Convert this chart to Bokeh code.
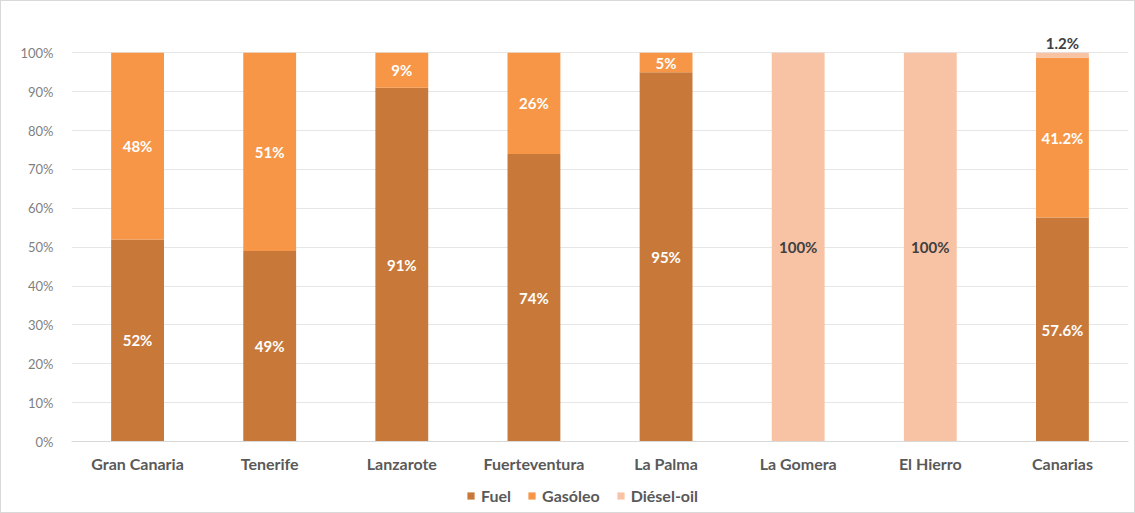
from bokeh.plotting import figure
from bokeh.layouts import column
from bokeh.models import ColumnDataSource, Range1d, FactorRange, LabelSet, Legend, LegendItem, FixedTicker, CustomJSTickFormatter
from bokeh.core.properties import value
from bokeh.embed import file_html
from bokeh.resources import INLINE

categories = ["Gran Canaria", "Tenerife", "Lanzarote", "Fuerteventura", "La Palma", "La Gomera", "El Hierro", "Canarias"]
fuel = [52, 49, 91, 74, 95, 0, 0, 57.6]
gasoleo = [48, 51, 9, 26, 5, 0, 0, 41.2]
diesel = [0, 0, 0, 0, 0, 100, 100, 1.2]
series = ["Fuel", "Gasóleo", "Diésel-oil"]
colors = ["#C87838", "#F79646", "#F8C3A5"]

FONT = "Lato"

src = ColumnDataSource(dict(cat=categories, Fuel=fuel, Gas=gasoleo, Die=diesel))

p = figure(width=1133, height=474, x_range=FactorRange(*categories, range_padding=0.0),
           y_range=Range1d(0, 106), output_backend="svg", toolbar_location=None,
           min_border_left=70, min_border_right=6, min_border_top=28, min_border_bottom=33)

r = p.vbar_stack(["Fuel", "Gas", "Die"], x="cat", width=0.4, color=colors, source=src, line_color=None)

# labels
lx, ly, lt, lc = [], [], [], []
for i, c in enumerate(categories):
    base = 0
    for j, vals in enumerate([fuel, gasoleo, diesel]):
        v = vals[i]
        if v > 0:
            txt = f"{v:.1f}%" if c == "Canarias" else f"{v:.0f}%"
            if v < 3:
                lx.append(c); ly.append(base + v + 2.6); lt.append(txt); lc.append("#404040")
            else:
                lx.append(c); ly.append(base + v / 2); lt.append(txt)
                lc.append("#404040" if j == 2 else "#ffffff")
        base += v
lsrc = ColumnDataSource(dict(x=lx, y=ly, t=lt, c=lc))
p.add_layout(LabelSet(x="x", y="y", text="t", source=lsrc, text_color="c", text_align="center",
                      text_baseline="middle", text_font=value(FONT), text_font_style="bold",
                      text_font_size="15px"))

p.yaxis.ticker = FixedTicker(ticks=list(range(0, 101, 10)))
p.yaxis.formatter = CustomJSTickFormatter(code="return tick + '%';")
p.yaxis.axis_line_color = None
p.yaxis.major_tick_line_color = None
p.yaxis.minor_tick_line_color = None
p.yaxis.major_label_text_color = "#7f7f7f"
p.yaxis.major_label_text_font = FONT
p.yaxis.major_label_text_font_size = "13px"
p.yaxis.major_label_standoff = 12

p.xaxis.axis_line_color = "#d9d9d9"
p.xaxis.major_tick_line_color = None
p.xaxis.minor_tick_line_color = None
p.xaxis.major_label_text_color = "#595959"
p.xaxis.major_label_text_font = FONT
p.xaxis.major_label_text_font_style = "bold"
p.xaxis.major_label_text_font_size = "16px"
p.xaxis.major_label_standoff = 6

p.xgrid.grid_line_color = None
p.ygrid.grid_line_color = "#e6e6e6"
p.ygrid.ticker = FixedTicker(ticks=list(range(0, 101, 10)))
p.outline_line_color = None

# legend in its own strip
q = figure(width=1133, height=37, x_range=Range1d(0, 1), y_range=Range1d(0, 1),
           output_backend="svg", toolbar_location=None, min_border=0)
q.axis.visible = False
q.grid.grid_line_color = None
q.outline_line_color = None
dummies = [q.vbar(x=[0.5], top=[0], width=0.01, fill_color=c, line_color=None) for c in colors]
legend = Legend(items=[LegendItem(label=s, renderers=[rr]) for s, rr in zip(series, dummies)],
                orientation="horizontal", location=(395, 7))
legend.label_text_font = FONT
legend.label_text_font_size = "16px"
legend.label_text_font_style = "bold"
legend.label_text_color = "#595959"
legend.glyph_width = 9
legend.glyph_height = 9
legend.spacing = 16
legend.label_standoff = 6
legend.label_height = 16
legend.border_line_color = None
legend.background_fill_alpha = 0
legend.padding = 0
legend.margin = 0
q.add_layout(legend)

layout = column(p, q, spacing=0)
layout.styles = {"border": "1px solid #d9d9d9"}

open("out.html", "w").write(file_html(layout, INLINE))
